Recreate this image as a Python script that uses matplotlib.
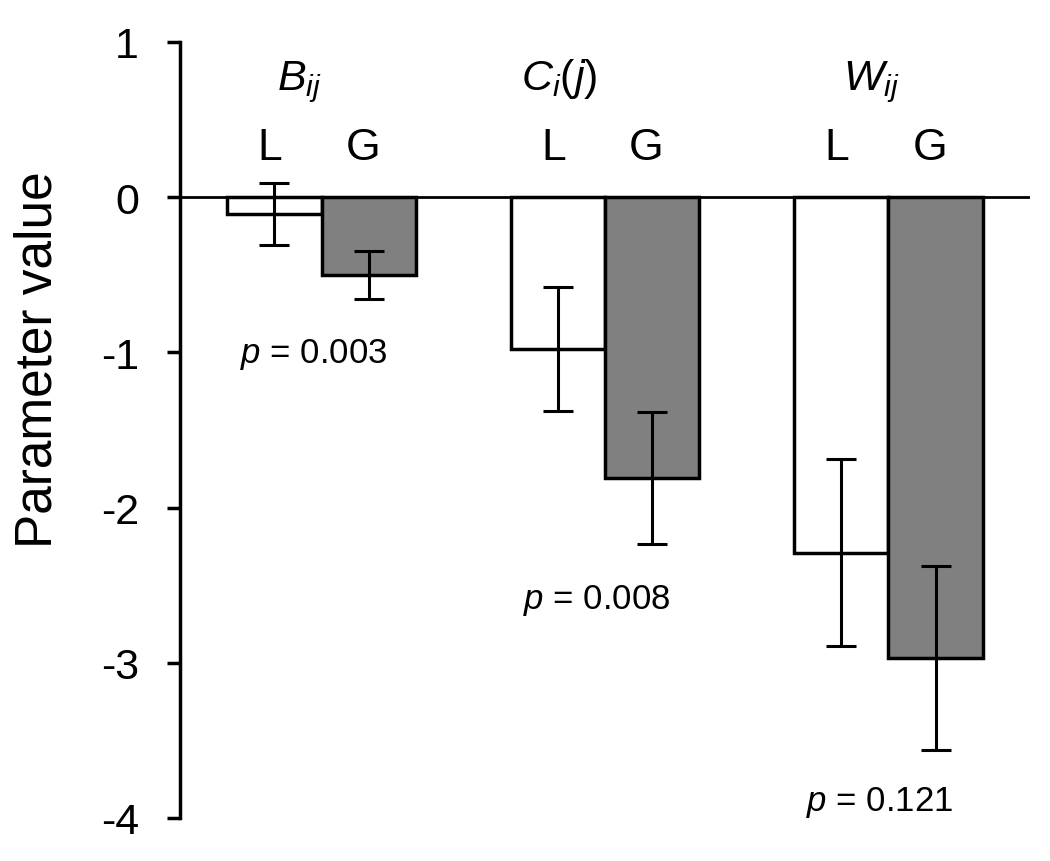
import numpy as np
import matplotlib
matplotlib.use("Agg")
import matplotlib.pyplot as plt

plt.rcParams['font.family'] = ['Liberation Sans', 'DejaVu Sans']
plt.rcParams['mathtext.fontset'] = 'custom'
plt.rcParams['mathtext.it'] = 'Liberation Sans:italic'
plt.rcParams['mathtext.rm'] = 'Liberation Sans'

# data
params = ["$B_{ij}$", "$C_i(j)$", "$W_{ij}$"]
local_vals = [-0.11, -0.98, -2.29]
local_err = [0.20, 0.40, 0.60]
global_vals = [-0.50, -1.81, -2.97]
global_err = [0.155, 0.425, 0.595]
pvals = ["0.003", "0.008", "0.121"]
p_y = [-1.06, -2.65, -3.95]
yticks = [1, 0, -1, -2, -3, -4]

fig = plt.figure(figsize=(10.5, 8.62), dpi=100)
ax = fig.add_axes([180/1050, 43/862, 850/1050, 776/862])

x = np.arange(len(params))
w = 1/3
ax.bar(x - w/2, local_vals, w, color='white', edgecolor='black', linewidth=2.5, zorder=2)
ax.bar(x + w/2, global_vals, w, color='#808080', edgecolor='black', linewidth=2.5, zorder=2)
ax.errorbar(x - w/2, local_vals, yerr=local_err, fmt='none', ecolor='black',
            elinewidth=2.2, capsize=10.8, capthick=2.2, zorder=3)
ax.errorbar(x + w/2, global_vals, yerr=global_err, fmt='none', ecolor='black',
            elinewidth=2.2, capsize=10.8, capthick=2.2, zorder=3)
ax.axhline(0, color='black', linewidth=2.0, zorder=4)

ax.set_xlim(-0.5, 2.5)
ax.set_ylim(-4, 1)
ax.set_yticks(yticks)
ax.set_yticklabels([str(t) for t in yticks], fontsize=31)
ax.set_xticks([])
for s in ['top', 'right', 'bottom']:
    ax.spines[s].set_visible(False)
ax.spines['left'].set_linewidth(2.5)
ax.tick_params(axis='y', length=9.5, width=2.5, pad=20, direction='out')

title_off = [-0.08, -0.16, -0.06]
for i in range(len(params)):
    ax.text(x[i] + title_off[i], 0.695, params[i], fontsize=31, ha='center', va='baseline')
    ax.text(x[i] - w/2 - 0.015, 0.245, "L", fontsize=32, ha='center', va='baseline')
    ax.text(x[i] + w/2 - 0.02, 0.245, "G", fontsize=32, ha='center', va='baseline')
    ax.text(x[i] - 0.03, p_y[i], "$p$ = " + pvals[i], fontsize=25, ha='center', va='baseline')

fig.text(38/1050, 1 - 360/862, "Parameter value", rotation=90, fontsize=37,
         ha='center', va='center')

fig.savefig("out.png", dpi=100)
